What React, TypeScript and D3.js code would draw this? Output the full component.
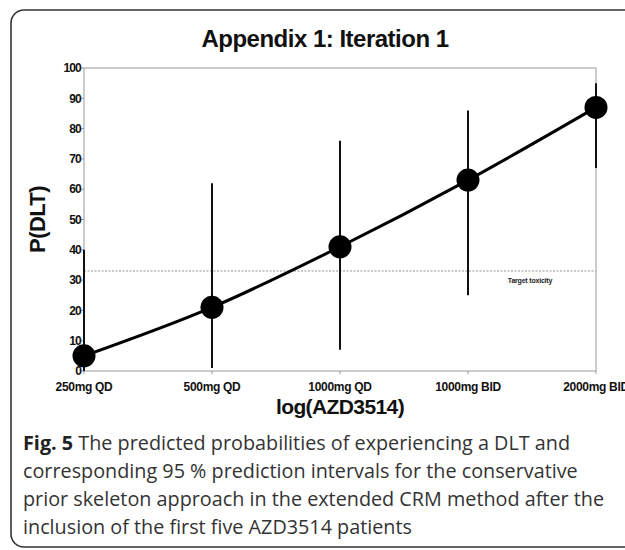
import React from 'react';
import * as d3 from 'd3';

const doses = ['250mg QD', '500mg QD', '1000mg QD', '1000mg BID', '2000mg BID'];
const pDLT = [5, 21, 41, 63, 87];
const lower = [0, 1, 7, 25, 67];
const upper = [40, 62, 76, 86, 95];
const yTicks = [0, 10, 20, 30, 40, 50, 60, 70, 80, 90, 100];
const targetTox = 33;

const captionLines = [
  'The predicted probabilities of experiencing a DLT and',
  'corresponding 95 % prediction intervals for the conservative',
  'prior skeleton approach in the extended CRM method after the',
  'inclusion of the first five AZD3514 patients',
];

const W = 625;
const H = 550;
const plot = { left: 84, right: 596, top: 68, bottom: 371 };
const AX = '"Liberation Sans", Arial, Helvetica, sans-serif';

export default function App() {
  const x = d3.scalePoint<string>().domain(doses).range([plot.left, plot.right]);
  const y = d3.scaleLinear().domain([0, 100]).range([plot.bottom, plot.top]);

  const pts = doses.map((d, i) => ({ dose: d, p: pDLT[i], lo: lower[i], hi: upper[i] }));
  const line = d3.line<typeof pts[0]>()
    .x(d => x(d.dose) as number)
    .y(d => y(d.p))
    .curve(d3.curveMonotoneX);

  return (
    <svg width={W} height={H} style={{ position: 'absolute', left: 0, top: 0, background: '#fff' }}>
      {/* outer frame */}
      <rect x={11} y={10} width={700} height={537} rx={13} fill="none" stroke="#333" strokeWidth={1.6} />

      <text x={325} y={47} textAnchor="middle" fontFamily={AX} fontWeight="bold" fontSize={24} letterSpacing={-0.5} fill="#111">
        Appendix 1: Iteration 1
      </text>

      {/* plot box */}
      <rect x={plot.left} y={plot.top} width={plot.right - plot.left} height={plot.bottom - plot.top}
        fill="none" stroke="#999" strokeWidth={1} />

      {/* y axis ticks */}
      {yTicks.map(t => (
        <g key={t} transform={`translate(${plot.left},${y(t)})`}>
          <line x1={-3} x2={0} stroke="#999" />
          <text x={-3} dy="0.35em" textAnchor="end" fontFamily={AX} fontWeight="bold" fontSize={12} letterSpacing={-0.8} fill="#111">{t}</text>
        </g>
      ))}

      {/* x axis ticks */}
      {doses.map(d => (
        <g key={d} transform={`translate(${x(d)},${plot.bottom})`}>
          <line y1={0} y2={3} stroke="#999" />
          <text y={20} textAnchor="middle" fontFamily={AX} fontWeight="bold" fontSize={12} letterSpacing={-0.3} fill="#111">{d}</text>
        </g>
      ))}

      <text x={340} y={414} textAnchor="middle" fontFamily={AX} fontWeight="bold" fontSize={21} letterSpacing={-0.6} fill="#111">
        log(AZD3514)
      </text>
      <text transform={`translate(45,${(plot.top + plot.bottom) / 2}) rotate(-90)`} textAnchor="middle"
        fontFamily={AX} fontWeight="bold" fontSize={22} letterSpacing={-0.6} fill="#111">
        P(DLT)
      </text>

      {/* target toxicity */}
      <line x1={plot.left} x2={plot.right} y1={y(targetTox)} y2={y(targetTox)} stroke="#888" strokeWidth={0.9} strokeDasharray="2,1.5" />
      <text x={530} y={y(targetTox) + 12} textAnchor="middle" fontFamily={AX} fontSize={7} fontWeight="bold" letterSpacing={-0.2} fill="#222">
        Target toxicity
      </text>

      {/* intervals */}
      {pts.map(d => (
        <line key={'e' + d.dose} x1={x(d.dose)} x2={x(d.dose)} y1={y(d.lo)} y2={y(d.hi)} stroke="#111" strokeWidth={2} />
      ))}

      <path d={line(pts) || ''} fill="none" stroke="#000" strokeWidth={3} />

      {pts.map(d => (
        <circle key={'c' + d.dose} cx={x(d.dose)} cy={y(d.p)} r={11.5} fill="#000" />
      ))}

      {/* caption */}
      <g fontFamily='"Open Sans", "Noto Sans", sans-serif' fontSize={19.8} fill="#333">
        <text x={23} y={450}>
          <tspan fontWeight="bold" fill="#222">Fig. 5</tspan> {captionLines[0]}
        </text>
        {captionLines.slice(1).map((l, i) => (
          <text key={i} x={23} y={478 + i * 28}>{l}</text>
        ))}
      </g>
    </svg>
  );
}
